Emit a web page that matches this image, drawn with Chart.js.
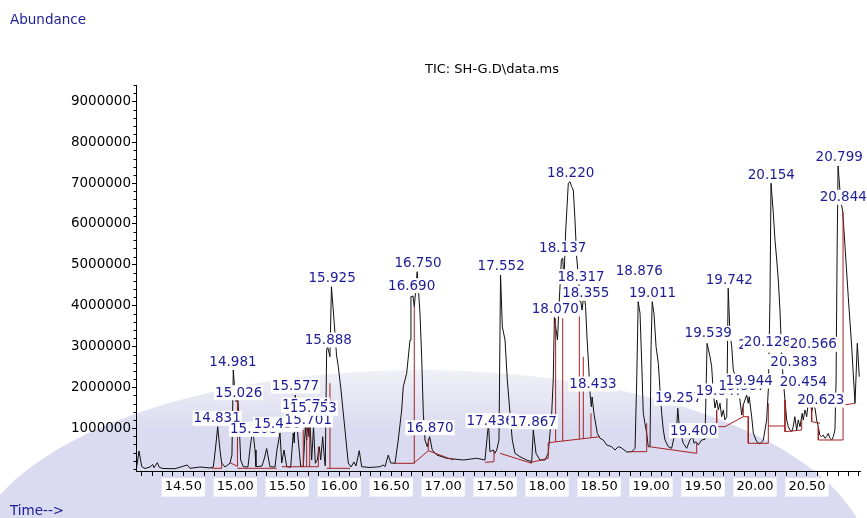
<!DOCTYPE html>
<html>
<head>
<meta charset="utf-8">
<script src="https://cdn.jsdelivr.net/npm/chart.js@4/dist/chart.umd.min.js"></script>
<style>
  html, body { margin: 0; padding: 0; background: #fff; }
</style>
</head>
<body>
<canvas id="tic" width="867" height="518"></canvas>
<script>
// TIC trace: [retention time (min), abundance]
const ticTrace = [
  [14.050, 24000], [14.074, 440000], [14.100, 60000], [14.132, 11000], [14.180, 48000],
  [14.206, 109000], [14.218, 31000], [14.250, 153000], [14.269, 41000], [14.305, 11000],
  [14.420, 6000], [14.538, 97000], [14.564, 16000], [14.661, 48000], [14.757, 24000],
  [14.789, 48000], [14.808, 464000], [14.831, 1035000], [14.853, 464000], [14.869, 146000],
  [14.901, 48000], [14.949, 139000], [14.968, 342000], [14.981, 2423000], [14.997, 1852000],
  [15.007, 1647000], [15.026, 1688000], [15.040, 954000], [15.052, 219000], [15.077, 55000],
  [15.122, 48000], [15.146, 587000], [15.168, 954000], [15.190, 464000], [15.199, 55000],
  [15.257, 72000], [15.281, 268000], [15.302, 501000], [15.322, 219000], [15.334, 55000],
  [15.382, 48000], [15.401, 464000], [15.430, 880000], [15.447, 146000], [15.469, 464000],
  [15.495, 55000], [15.533, 41000], [15.558, 880000], [15.568, 636000], [15.577, 1811000],
  [15.603, 790000], [15.629, 72000], [15.654, 55000], [15.674, 1035000], [15.687, 709000],
  [15.697, 1199000], [15.709, 790000], [15.719, 1118000], [15.735, 219000], [15.753, 1035000],
  [15.770, 139000], [15.789, 219000], [15.808, 545000], [15.822, 219000], [15.841, 790000],
  [15.856, 300000], [15.866, 72000], [15.879, 2912000], [15.888, 2993000], [15.911, 2748000],
  [15.925, 4462000], [15.950, 3647000], [15.974, 2790000], [15.991, 2504000], [16.017, 1933000],
  [16.039, 1370000], [16.065, 709000], [16.087, 146000], [16.113, 48000], [16.142, 170000],
  [16.161, 72000], [16.193, 447000], [16.216, 55000], [16.296, 36000], [16.392, 55000],
  [16.424, 97000], [16.440, 55000], [16.472, 342000], [16.495, 146000], [16.537, 139000],
  [16.568, 709000], [16.601, 1444000], [16.616, 2014000], [16.649, 2342000], [16.681, 3157000],
  [16.690, 4217000], [16.710, 4234000], [16.722, 3973000], [16.736, 4381000], [16.750, 4829000],
  [16.777, 3811000], [16.793, 2748000], [16.809, 1363000], [16.825, 709000], [16.847, 545000],
  [16.870, 790000], [16.895, 464000], [16.938, 342000], [17.034, 261000], [17.194, 219000],
  [17.322, 261000], [17.402, 219000], [17.436, 1118000], [17.450, 423000], [17.482, 464000],
  [17.498, 383000], [17.515, 464000], [17.537, 709000], [17.552, 4749000], [17.569, 3483000],
  [17.595, 3157000], [17.617, 2178000], [17.643, 1363000], [17.665, 709000], [17.691, 383000],
  [17.739, 300000], [17.803, 219000], [17.852, 178000], [17.867, 954000], [17.893, 383000],
  [17.931, 219000], [17.979, 219000], [18.011, 383000], [18.044, 1363000], [18.059, 2178000],
  [18.070, 3708000], [18.100, 3157000], [18.114, 3973000], [18.137, 5116000], [18.150, 5165000],
  [18.162, 4626000], [18.179, 5850000], [18.204, 6994000], [18.220, 7033000], [18.236, 6910000],
  [18.252, 6830000], [18.268, 6095000], [18.285, 5165000], [18.317, 4217000], [18.336, 3892000],
  [18.355, 4301000], [18.370, 3973000], [18.385, 3157000], [18.400, 2504000], [18.413, 1852000],
  [18.425, 1524000], [18.433, 1762000], [18.450, 1363000], [18.483, 873000], [18.509, 751000],
  [18.540, 709000], [18.573, 587000], [18.621, 545000], [18.653, 464000], [18.685, 545000],
  [18.717, 513000], [18.766, 415000], [18.814, 423000], [18.846, 506000], [18.862, 2178000],
  [18.876, 4095000], [18.894, 3811000], [18.910, 2587000], [18.925, 1363000], [18.941, 1118000],
  [18.958, 873000], [18.973, 545000], [18.990, 545000], [19.000, 2993000], [19.011, 4095000],
  [19.028, 3811000], [19.048, 2993000], [19.070, 2587000], [19.086, 1933000], [19.102, 1363000],
  [19.118, 954000], [19.134, 709000], [19.166, 545000], [19.198, 506000], [19.230, 873000],
  [19.247, 1035000], [19.257, 1485000], [19.269, 1118000], [19.285, 873000], [19.310, 628000],
  [19.343, 506000], [19.374, 709000], [19.400, 790000], [19.413, 628000], [19.432, 667000],
  [19.454, 587000], [19.487, 709000], [19.519, 726000], [19.539, 3076000], [19.567, 2748000],
  [19.583, 2504000], [19.599, 1852000], [19.615, 1492000], [19.631, 1688000], [19.647, 1444000],
  [19.663, 1608000], [19.679, 1280000], [19.695, 1444000], [19.711, 1199000], [19.728, 1280000],
  [19.742, 4423000], [19.759, 3321000], [19.776, 2993000], [19.791, 2423000], [19.807, 2300000],
  [19.824, 2220000], [19.855, 1688000], [19.872, 1321000], [19.887, 1566000], [19.903, 1688000],
  [19.920, 1811000], [19.935, 1608000], [19.944, 1769000], [19.968, 1280000], [19.984, 873000],
  [20.016, 667000], [20.048, 611000], [20.080, 709000], [20.112, 1199000], [20.128, 1933000],
  [20.144, 4137000], [20.154, 6994000], [20.176, 6259000], [20.192, 5605000], [20.209, 5116000],
  [20.224, 4626000], [20.240, 3892000], [20.257, 2748000], [20.272, 2178000], [20.288, 1688000],
  [20.305, 1199000], [20.320, 1035000], [20.336, 954000], [20.353, 912000], [20.368, 1035000],
  [20.383, 1280000], [20.401, 954000], [20.416, 1199000], [20.433, 1035000], [20.454, 1363000],
  [20.464, 1199000], [20.481, 1444000], [20.497, 1280000], [20.512, 1608000], [20.529, 1688000],
  [20.545, 1402000], [20.566, 1608000], [20.580, 1444000], [20.593, 1199000], [20.609, 1035000],
  [20.623, 831000], [20.641, 790000], [20.657, 831000], [20.673, 751000], [20.689, 790000],
  [20.705, 873000], [20.721, 751000], [20.738, 709000], [20.753, 790000], [20.769, 954000],
  [20.780, 2178000], [20.790, 5361000], [20.799, 7417000], [20.824, 6585000], [20.844, 6298000],
  [20.866, 5441000], [20.897, 4217000], [20.930, 2993000], [20.962, 1608000], [20.984, 3076000],
  [21.003, 2259000]
];

// integration baselines and drop lines (dark red)
const baselineSegments = [
  [[14.773, 16000], [14.869, 16000], [14.869, 146000]],
  [[14.949, 153000], [15.021, 65000], [15.021, 1688000]],
  [[15.021, 16000], [15.398, 16000]],
  [[15.447, 55000], [15.799, 55000], [15.799, 545000]],
  [[15.654, 55000], [15.654, 954000]],
  [[15.687, 55000], [15.687, 1400000]],
  [[15.716, 55000], [15.716, 1050000]],
  [[15.879, 16000], [16.104, 16000]],
  [[15.911, 16000], [15.911, 2097000]],
  [[16.537, 138000], [16.722, 138000], [16.722, 3973000]],
  [[16.722, 150000], [16.857, 447000], [16.857, 750000]],
  [[16.857, 447000], [17.099, 219000]],
  [[17.402, 163000], [17.489, 178000], [17.489, 447000]],
  [[17.547, 383000], [17.852, 139000]],
  [[17.835, 153000], [18.011, 261000], [18.011, 643000], [18.509, 790000]],
  [[18.082, 664000], [18.082, 3688000]],
  [[18.150, 684000], [18.150, 3688000]],
  [[18.310, 731000], [18.310, 4460000]],
  [[18.348, 743000], [18.348, 2748000]],
  [[18.422, 764000], [18.422, 1363000]],
  [[18.800, 423000], [18.958, 423000], [18.958, 1118000]],
  [[18.983, 545000], [19.439, 383000], [19.439, 628000]],
  [[19.631, 1443000], [19.631, 1035000], [19.711, 1035000], [19.887, 1280000], [19.935, 1280000],
   [19.935, 628000], [20.128, 628000], [20.128, 1608000]],
  [[19.887, 1280000], [19.887, 1566000]],
  [[20.128, 1052000], [20.288, 1052000]],
  [[20.288, 1688000], [20.288, 912000], [20.449, 954000], [20.449, 1199000]],
  [[20.545, 1566000], [20.545, 1157000], [20.625, 1118000]],
  [[20.609, 1035000], [20.609, 709000], [20.847, 709000], [20.847, 6298000]],
  [[20.857, 1566000], [20.962, 1608000]]
];

// peak labels: [text, centre time, centre abundance], in drawing order
const peakLabels = [
  ['14.831', 14.826, 1240000], ['14.981', 14.978, 2626000], ['15.026', 15.033, 1867000],
  ['15.168', 15.176, 971000], ['15.430', 15.406, 1093000], ['15.674', 15.676, 1566000],
  ['15.701', 15.702, 1199000], ['15.753', 15.751, 1485000], ['15.577', 15.579, 2031000],
  ['15.888', 15.895, 3157000], ['15.925', 15.932, 4683000], ['16.690', 16.697, 4487000],
  ['16.750', 16.758, 5050000], ['16.870', 16.873, 1010000], ['17.436', 17.452, 1182000],
  ['17.867', 17.867, 1157000], ['17.552', 17.558, 4969000], ['18.070', 18.079, 3916000],
  ['18.137', 18.150, 5402000], ['18.220', 18.227, 7253000], ['18.317', 18.326, 4707000],
  ['18.355', 18.372, 4300000], ['18.433', 18.441, 2080000], ['18.876', 18.887, 4854000],
  ['19.011', 19.014, 4315000], ['19.257', 19.264, 1730000], ['19.400', 19.410, 937000],
  ['19.539', 19.550, 3321000], ['19.647', 19.658, 1909000], ['19.887', 19.875, 2030000],
  ['19.944', 19.944, 2153000], ['19.742', 19.753, 4626000], ['20.081', 20.065, 3035000],
  ['20.128', 20.120, 3116000], ['20.566', 20.561, 3052000], ['20.353', 20.359, 2626000],
  ['20.383', 20.375, 2626000], ['20.454', 20.465, 2136000], ['20.623', 20.633, 1688000],
  ['20.154', 20.157, 7197000], ['20.799', 20.810, 7645000], ['20.844', 20.849, 6651000]
];

const yTickLabels = [1000000, 2000000, 3000000, 4000000, 5000000, 6000000, 7000000, 8000000, 9000000];
const xTickLabels = ['14.50', '15.00', '15.50', '16.00', '16.50', '17.00', '17.50', '18.00', '18.50',
  '19.00', '19.50', '20.00', '20.50'];

const titleText = 'TIC: SH-G.D\\data.ms';
const FONT = '"DejaVu Sans", sans-serif';
const NAVY = '#1c1c96';

Chart.defaults.font.family = FONT;

const datasets = [{
  data: ticTrace.map(p => ({ x: p[0], y: p[1] })),
  showLine: true,
  borderColor: '#111',
  borderWidth: 1,
  pointRadius: 0,
  order: 2
}];
baselineSegments.forEach(seg => {
  datasets.push({
    data: seg.map(p => ({ x: p[0], y: p[1] })),
    showLine: true,
    borderColor: '#a42222',
    borderWidth: 1,
    pointRadius: 0,
    order: 1
  });
});

// faint watermark behind everything
const backdrop = {
  id: 'backdrop',
  beforeDraw(chart) {
    const c = chart.ctx;
    c.save();
    c.fillStyle = '#fff';
    c.fillRect(0, 0, chart.width, chart.height);
    const g = c.createLinearGradient(0, 360, 0, 430);
    g.addColorStop(0, 'rgba(222,222,238,0.35)');
    g.addColorStop(1, 'rgba(218,218,240,1)');
    c.fillStyle = g;
    c.beginPath();
    c.ellipse(420, 565, 450, 195, 0, 0, Math.PI * 2);
    c.fill();
    c.restore();
  }
};

const annotations = {
  id: 'annotations',
  afterDraw(chart) {
    const c = chart.ctx;
    const xs = chart.scales.x, ys = chart.scales.y;
    c.save();

    // minor ticks on the abundance axis
    c.strokeStyle = '#000';
    c.lineWidth = 1;
    for (let v = 0; v <= 9400000; v += 200000) {
      if (v % 1000000 === 0 && v > 0) continue;
      const py = Math.round(ys.getPixelForValue(v)) + 0.5;
      c.beginPath();
      c.moveTo(xs.left - 2.5, py);
      c.lineTo(xs.left, py);
      c.stroke();
    }

    // peak labels with white boxes
    c.font = '13.5px ' + FONT;
    c.textAlign = 'center';
    c.textBaseline = 'middle';
    peakLabels.forEach(([txt, t, a]) => {
      const px = xs.getPixelForValue(t);
      const py = ys.getPixelForValue(a);
      const w = c.measureText(txt).width + 2;
      c.fillStyle = '#fff';
      c.fillRect(px - w / 2, py - 7.5, w, 15);
      c.fillStyle = NAVY;
      c.fillText(txt, px, py + 0.5);
    });

    // titles
    c.textAlign = 'left';
    c.fillStyle = NAVY;
    c.fillText('Abundance', 10, 20);
    c.fillText('Time-->', 10, 511);
    c.textAlign = 'center';
    c.fillStyle = '#000';
    c.font = '13px ' + FONT;
    c.fillText(titleText, 492, 70);
    c.restore();
  }
};

new Chart(document.getElementById('tic'), {
  type: 'scatter',
  data: { datasets },
  options: {
    responsive: false,
    animation: false,
    layout: { padding: { top: 85, right: 7, left: 0, bottom: 0 } },
    plugins: { legend: { display: false }, tooltip: { enabled: false } },
    scales: {
      x: {
        type: 'linear',
        min: 14.045,
        max: 21.01,
        afterFit(s) { s.height = 47; },
        afterBuildTicks(s) {
          const t = [];
          for (let k = 141; k <= 210; k++) t.push({ value: k / 10 });
          s.ticks = t;
        },
        ticks: {
          autoSkip: false,
          maxRotation: 0,
          color: '#000',
          font: { size: 13 },
          padding: 3,
          callback: v => {
            const s = v.toFixed(2);
            return xTickLabels.includes(s) ? s : '';
          },
          showLabelBackdrop: c => !!(c.tick && c.tick.label),
          backdropColor: '#fff',
          backdropPadding: { left: 3, right: 3, top: 1, bottom: 2 }
        },
        grid: { drawOnChartArea: false, tickLength: 5, color: '#000', tickColor: '#000' },
        border: { display: true, color: '#000', width: 1 }
      },
      y: {
        min: -50000,
        max: 9400000,
        afterFit(s) { s.width = 136; },
        afterBuildTicks(s) { s.ticks = yTickLabels.map(v => ({ value: v })); },
        ticks: {
          color: '#000',
          font: { size: 13.5 },
          padding: 1,
          callback: v => String(v)
        },
        grid: { drawOnChartArea: false, tickLength: 4, color: '#000', tickColor: '#000' },
        border: { display: true, color: '#000', width: 1 }
      }
    }
  },
  plugins: [backdrop, annotations]
});
</script>
</body>
</html>
